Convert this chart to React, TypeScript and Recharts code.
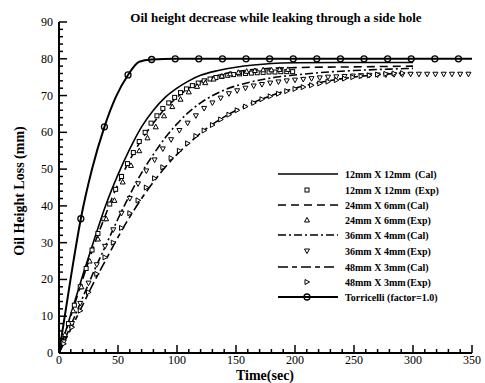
import React from "react";
import {
  ComposedChart,
  Line,
  Scatter,
  XAxis,
  YAxis,
} from "recharts";

// [time (sec), oil height loss (mm)]
const cal12x12 = [
  [0, 0], [10, 10.5], [20, 21], [30, 31], [40, 40.5], [50, 48.5], [60, 55.5],
  [70, 61.5], [80, 66], [90, 69.5], [100, 72], [110, 74], [120, 75.5],
  [135, 76.8], [150, 77.7], [165, 78.3], [180, 78.7], [200, 78.9], [250, 79],
  [300, 79],
];
const exp12x12 = [
  [3, 3], [8, 8], [13, 13], [18, 18], [23, 23], [28, 28], [33, 32.5],
  [38, 36.5], [43, 40.5], [48, 44.5], [53, 48], [58, 51.5], [63, 54.5],
  [68, 57.5], [73, 60], [78, 62.5], [83, 64.5], [88, 66.5], [93, 68],
  [98, 69.5], [103, 70.8], [108, 71.8], [113, 72.7], [118, 73.4], [123, 74],
  [128, 74.5], [133, 74.9], [138, 75.2], [143, 75.5], [148, 75.7],
  [153, 75.9], [158, 76], [163, 76.1], [168, 76.2], [173, 76.3], [178, 76.4],
  [183, 76.4], [188, 76.5], [193, 76.5], [198, 76.5],
];
const cal24x6 = [
  [0, 0], [10, 10], [20, 20], [30, 29.5], [40, 38], [50, 46], [60, 52.5],
  [70, 58], [80, 62.5], [90, 66.5], [100, 69.5], [110, 72], [120, 73.8],
  [135, 75.5], [150, 76.5], [170, 77.2], [200, 77.6], [250, 77.8], [300, 78],
];
const exp24x6 = [
  [5, 5], [12, 11.5], [19, 18], [26, 25], [33, 31], [40, 36.5], [47, 41.5],
  [54, 46.5], [61, 51], [68, 55], [75, 58.5], [82, 61.5], [89, 64.5],
  [96, 67], [103, 69], [110, 71], [117, 72.5], [124, 73.5], [131, 74.5],
  [138, 75.3], [145, 75.9], [152, 76.3], [159, 76.6], [166, 76.8],
  [173, 77], [180, 77], [187, 77.1], [194, 77.1],
];
const cal36x4 = [
  [0, 0], [10, 7.5], [20, 15], [30, 22.5], [40, 29.5], [50, 36.5], [60, 43],
  [70, 49], [80, 54], [90, 58.5], [100, 62.3], [110, 65.5], [120, 68],
  [140, 71.5], [160, 73.5], [180, 74.8], [200, 75.6], [220, 76.2],
  [250, 76.8], [280, 77.2], [300, 77.4],
];
const exp36x4 = [
  [4, 3], [11, 8], [18, 13.5], [25, 19], [32, 24], [39, 29], [46, 33.5],
  [53, 38], [60, 42], [67, 46], [74, 49.5], [81, 52.5], [88, 55.5], [95, 58],
  [102, 60.5], [109, 62.5], [116, 64.5], [123, 66.5], [130, 68], [137, 69.3],
  [144, 70.5], [151, 71.3], [158, 72], [165, 72.6], [172, 73], [179, 73.4],
  [186, 73.7], [193, 74], [200, 74.2], [207, 74.4], [214, 74.6], [221, 74.8],
  [228, 75], [235, 75.1], [242, 75.2], [249, 75.3], [256, 75.4], [263, 75.5],
  [270, 75.6], [277, 75.6], [284, 75.7], [291, 75.7], [298, 75.8],
  [305, 75.8], [312, 75.8], [319, 75.8], [326, 75.8], [333, 75.8],
  [340, 75.8], [347, 75.8],
];
const cal48x3 = [
  [0, 0], [10, 6.5], [20, 13], [30, 19.5], [40, 25.5], [50, 31.5], [60, 37],
  [70, 42], [80, 46.5], [90, 50.5], [100, 54], [110, 57], [120, 59.8],
  [140, 64.2], [160, 67.5], [180, 70], [200, 72], [220, 73.5], [240, 74.6],
  [260, 75.4], [280, 75.9], [300, 76.2],
];
const exp48x3 = [
  [4, 2.5], [11, 7], [18, 11.5], [25, 16.5], [32, 21.5], [39, 26], [46, 30],
  [53, 34], [60, 38], [67, 41.5], [74, 45], [81, 47.5], [88, 50.5], [95, 53],
  [102, 55], [109, 57], [116, 59], [123, 60.5], [130, 62], [137, 63.5],
  [144, 64.8], [151, 66], [158, 67], [165, 68], [172, 69], [179, 69.8],
  [186, 70.5], [193, 71.2], [200, 71.8], [207, 72.3], [214, 72.8],
  [221, 73.3], [228, 73.8], [235, 74.2], [242, 74.6], [249, 75], [256, 75.3],
  [263, 75.5], [270, 75.7], [277, 75.9], [284, 76], [291, 76.1],
];
const torricelliLine = [
  [0, 0], [10, 20.5], [18.5, 36.5], [28, 50], [38.5, 61.5], [48, 69.5],
  [58.5, 75.6], [68, 79.2], [78.5, 79.8], [98.5, 80], [150, 80], [200, 80],
  [250, 80], [300, 80], [350, 80],
];
const torricelliMarks = [
  [18.5, 36.5], [38.5, 61.5], [58.5, 75.6], [78.5, 79.8], [98.5, 80],
  [118.5, 80], [138.5, 80], [158.5, 80], [178.5, 80], [198.5, 80],
  [218.5, 80], [238.5, 80], [258.5, 80], [278.5, 80], [298.5, 80],
  [318.5, 80], [338.5, 80],
];

const xTicks = [0, 10, 20, 30, 40, 50, 60, 70, 80, 90, 100, 110, 120, 130, 140, 150, 160, 170, 180, 190, 200, 210, 220, 230, 240, 250, 260, 270, 280, 290, 300, 310, 320, 330, 340, 350];
const yTicks = [0, 2, 4, 6, 8, 10, 12, 14, 16, 18, 20, 22, 24, 26, 28, 30, 32, 34, 36, 38, 40, 42, 44, 46, 48, 50, 52, 54, 56, 58, 60, 62, 64, 66, 68, 70, 72, 74, 76, 78, 80, 82, 84, 86, 88, 90];

const toPts = (arr: number[][]) => arr.map(([t, v]) => ({ t, v }));

const FONT = "'Liberation Serif', 'Times New Roman', serif";

const XTick = (props: any) => {
  const { x, y, payload } = props;
  const major = payload.value % 50 === 0;
  return (
    <g>
      <line x1={x} x2={x} y1={y} y2={y - (major ? 8 : 4)} stroke="#000" strokeWidth={1.5} />
      {major && (
        <text x={x} y={y + 11} textAnchor="middle" fontSize={12} fontFamily={FONT} fill="#000">
          {payload.value}
        </text>
      )}
    </g>
  );
};

const YTick = (props: any) => {
  const { x, y, payload } = props;
  const major = payload.value % 10 === 0;
  return (
    <g>
      <line x1={x} x2={x + (major ? 8 : 4)} y1={y} y2={y} stroke="#000" strokeWidth={1.5} />
      {major && (
        <text x={x - 6} y={y + 4} textAnchor="end" fontSize={12} fontFamily={FONT} fill="#000">
          {payload.value}
        </text>
      )}
    </g>
  );
};

const Square = ({ cx, cy }: any) => (
  <rect x={cx - 2} y={cy - 2} width={4} height={4} fill="#fff" stroke="#000" strokeWidth={1} />
);
const TriUp = ({ cx, cy }: any) => (
  <polygon points={`${cx},${cy - 2.6} ${cx - 2.5},${cy + 2} ${cx + 2.5},${cy + 2}`} fill="#fff" stroke="#000" strokeWidth={1} />
);
const TriDown = ({ cx, cy }: any) => (
  <polygon points={`${cx},${cy + 2.6} ${cx - 2.5},${cy - 2} ${cx + 2.5},${cy - 2}`} fill="#fff" stroke="#000" strokeWidth={1} />
);
const TriRight = ({ cx, cy }: any) => (
  <polygon points={`${cx + 2.6},${cy} ${cx - 2},${cy - 2.5} ${cx - 2},${cy + 2.5}`} fill="#fff" stroke="#000" strokeWidth={1} />
);
const Ring = ({ cx, cy }: any) => (
  <circle cx={cx} cy={cy} r={3} fill="none" stroke="#000" strokeWidth={1.3} />
);

const legendRows = [
  { y: 174, name: "12mm X 12mm", tag: "(Cal)", dash: "", mark: null },
  { y: 190, name: "12mm X 12mm", tag: "(Exp)", dash: null, mark: Square },
  { y: 205, name: "24mm X 6mm", tag: "(Cal)", dash: "8 5", mark: null },
  { y: 220, name: "24mm X 6mm", tag: "(Exp)", dash: null, mark: TriUp },
  { y: 235, name: "36mm X 4mm", tag: "(Cal)", dash: "8 3 2 3", mark: null },
  { y: 251, name: "36mm X 4mm", tag: "(Exp)", dash: null, mark: TriDown },
  { y: 267, name: "48mm X 3mm", tag: "(Cal)", dash: "10 4 5 4", mark: null },
  { y: 282, name: "48mm X 3mm", tag: "(Exp)", dash: null, mark: TriRight },
];

export default function App() {
  return (
    <div style={{ position: "absolute", left: 0, top: 0, width: 485, height: 383, background: "#fff" }}>
      <ComposedChart
        width={485}
        height={383}
        margin={{ top: 22, right: 13, bottom: 0, left: 0 }}
      >
        <XAxis
          type="number"
          dataKey="t"
          domain={[0, 350]}
          ticks={xTicks}
          interval={0}
          tick={<XTick />}
          tickSize={0}
          tickMargin={0}
          tickLine={false}
          height={30}
          axisLine={{ stroke: "#000", strokeWidth: 2 }}
          allowDataOverflow
        />
        <YAxis
          type="number"
          dataKey="v"
          domain={[0, 90]}
          ticks={yTicks}
          interval={0}
          tick={<YTick />}
          tickSize={0}
          tickMargin={0}
          tickLine={false}
          width={59}
          axisLine={{ stroke: "#000", strokeWidth: 2 }}
          allowDataOverflow
        />
        <Line data={toPts(cal12x12)} dataKey="v" type="monotone" stroke="#000" strokeWidth={1.6} dot={false} isAnimationActive={false} />
        <Line data={toPts(cal24x6)} dataKey="v" type="monotone" stroke="#000" strokeWidth={1.6} strokeDasharray="8 5" dot={false} isAnimationActive={false} />
        <Line data={toPts(cal36x4)} dataKey="v" type="monotone" stroke="#000" strokeWidth={1.6} strokeDasharray="8 3 2 3" dot={false} isAnimationActive={false} />
        <Line data={toPts(cal48x3)} dataKey="v" type="monotone" stroke="#000" strokeWidth={1.6} strokeDasharray="10 4 5 4" dot={false} isAnimationActive={false} />
        <Line data={toPts(torricelliLine)} dataKey="v" type="monotone" stroke="#000" strokeWidth={2} dot={false} isAnimationActive={false} />
        <Scatter data={toPts(exp12x12)} dataKey="v" shape={<Square />} isAnimationActive={false} />
        <Scatter data={toPts(exp24x6)} dataKey="v" shape={<TriUp />} isAnimationActive={false} />
        <Scatter data={toPts(exp36x4)} dataKey="v" shape={<TriDown />} isAnimationActive={false} />
        <Scatter data={toPts(exp48x3)} dataKey="v" shape={<TriRight />} isAnimationActive={false} />
        <Scatter data={toPts(torricelliMarks)} dataKey="v" shape={<Ring />} isAnimationActive={false} />
      </ComposedChart>
      <svg width={485} height={383} style={{ position: "absolute", left: 0, top: 0, pointerEvents: "none" }}>
        <text x={276} y={22} textAnchor="middle" fontFamily={FONT} fontWeight="bold" fontSize={13}>
          Oil height decrease while leaking through a side hole
        </text>
        <text x={265} y={380} textAnchor="middle" fontFamily={FONT} fontWeight="bold" fontSize={14}>
          Time(sec)
        </text>
        <text
          transform="translate(24,191) rotate(-90)"
          textAnchor="middle"
          fontFamily={FONT}
          fontWeight="bold"
          fontSize={14}
        >
          Oil Height Loss (mm)
        </text>
        {legendRows.map((r, i) => {
          const M = r.mark as any;
          return (
            <g key={i}>
              {r.dash !== null && (
                <line x1={278} x2={338} y1={r.y} y2={r.y} stroke="#000" strokeWidth={1.6} strokeDasharray={r.dash || undefined} />
              )}
              {M && <M cx={307} cy={r.y} />}
              <text x={345} y={r.y + 3.5} fontFamily={FONT} fontWeight="bold" fontSize={10}>
                {r.name}
              </text>
              <text x={r.name.startsWith("12") ? 415 : 407} y={r.y + 3.5} fontFamily={FONT} fontWeight="bold" fontSize={10}>
                {r.tag}
              </text>
            </g>
          );
        })}
        <line x1={278} x2={338} y1={297} y2={297} stroke="#000" strokeWidth={2} />
        <Ring cx={307} cy={297} />
        <text x={345} y={300.5} fontFamily={FONT} fontWeight="bold" fontSize={10}>
          Torricelli (factor=1.0)
        </text>
      </svg>
    </div>
  );
}
